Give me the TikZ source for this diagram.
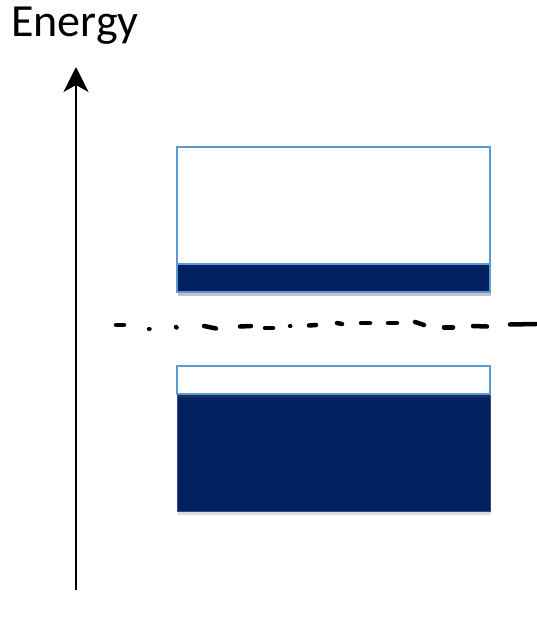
\documentclass[tikz,border=0pt]{standalone}
\usepackage{fontspec}
\setmainfont{Carlito}
\usetikzlibrary{arrows.meta,shadows}
\definecolor{navy}{RGB}{0,32,96}
\definecolor{edgeblue}{RGB}{91,155,213}
\tikzset{
  bandbox/.style={rectangle, inner sep=0pt, outer sep=0pt, minimum width=313pt,
    drop shadow={shadow xshift=1pt, shadow yshift=-4pt, opacity=0.22, fill=black!60}},
  emptyband/.style={bandbox, fill=white, draw=edgeblue, line width=2.5pt},
  fullband/.style={bandbox, fill=navy, draw=edgeblue, line width=2.5pt},
  fullbare/.style={bandbox, fill=navy, draw=navy!80!white, line width=1pt},
  fermidash/.style={line width=4.5pt, line cap=round, black},
  axisline/.style={line width=2pt, -{Stealth[length=25pt, width=25pt, inset=7pt]}}
}
\begin{document}
\begin{tikzpicture}[x=1pt, y=-1pt]
\useasboundingbox (0,0) rectangle (536,618);
% axis
\coordinate (axbot) at (76,590);
\coordinate (axtop) at (76,67);
\draw[axisline] (axbot) -- (axtop);
\node[anchor=base west, inner sep=0pt, font=\fontsize{46}{50}\selectfont] (lbl) at (11,37) {Energy};
% upper band
\node[emptyband, minimum height=145pt] (upper) at (333.5,219.5) {};
\node[fullband, minimum height=28pt, drop shadow={opacity=0}] (upperfill) at (333.5,278) {};
% lower band
\node[fullbare, minimum height=117pt] (lowerfill) at (333.5,452.5) {};
\node[emptyband, minimum height=28pt] (lowertop) at (333.5,380) {};
% hand-drawn dashed level
\foreach \xa/\ya/\xb/\yb in {
  116/325/124/325, 149/329/149.5/329, 176/327/176.5/327.5, 204/326/216/328.5,
  240/326.5/251/326, 265/328/273/328, 290/326/290.3/326, 309/325.5/316/325,
  337/323/342/324, 361/323/370/323, 388/323/397/323, 415/322/424/325,
  444/327.5/453/327.5, 473/326/487/326.5, 510/324.5/536/324}
  \draw[fermidash] (\xa,\ya) -- (\xb,\yb);
\end{tikzpicture}
\end{document}
